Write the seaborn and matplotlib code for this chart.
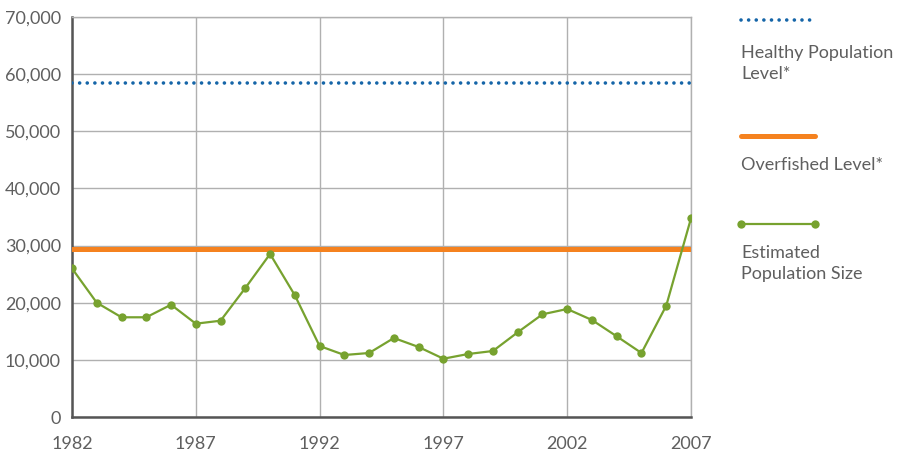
import matplotlib
matplotlib.use("Agg")
import matplotlib.pyplot as plt
import seaborn as sns
import pandas as pd
from matplotlib.lines import Line2D
from matplotlib.ticker import FuncFormatter, MultipleLocator

years = list(range(1982, 2008))
population = [26000, 20000, 17450, 17450, 19650, 16330, 16850, 22575, 28530, 21300,
              12425, 10850, 11200, 13825, 12250, 10200, 11025, 11550, 14820, 17970,
              18900, 16975, 14120, 11200, 19480, 34770]
healthy_level = 58500
overfished_level = 29400

year_ticks = [1982, 1987, 1992, 1997, 2002, 2007]
legend_labels = ["Healthy Population\nLevel*", "Overfished Level*", "Estimated\nPopulation Size"]

blue = "#1565a8"
orange = "#f5821f"
green = "#77a22f"
text_grey = "#5f5f5f"

sns.set_style("white")
plt.rcParams['font.family'] = ['Lato', 'DejaVu Sans']

df = pd.DataFrame({"year": years, "population": population})

fig = plt.figure(figsize=(9.05, 4.53), dpi=100)
ax = fig.add_axes([72 / 905, 1 - 417 / 453, (691 - 72) / 905, 400 / 453])

ax.axhline(healthy_level, color=blue, lw=2.6, linestyle=(0, (0.01, 2.1)),
           dash_capstyle="round", zorder=3)
ax.axhline(overfished_level, color=orange, lw=3.6, zorder=3)
sns.lineplot(data=df, x="year", y="population", ax=ax, color=green, lw=1.6,
             marker="o", markersize=6, markeredgewidth=0, zorder=4)

ax.set_xlim(1982, 2007)
ax.set_ylim(0, 70000)
ax.set_xlabel("")
ax.set_ylabel("")

ax.set_xticks(year_ticks)
ax.set_xticks(years, minor=True)
ax.yaxis.set_major_locator(MultipleLocator(10000))
ax.yaxis.set_major_formatter(FuncFormatter(lambda v, p: f"{int(v):,}"))

ax.grid(True, axis="both", which="major", color="#b0b0b0", lw=1)
ax.set_axisbelow(True)

for side in ["left", "bottom"]:
    ax.spines[side].set_color("#555555")
    ax.spines[side].set_linewidth(1.8)
ax.spines["right"].set_color("#b0b0b0")
ax.spines["right"].set_linewidth(1)
ax.spines["top"].set_color("#b0b0b0")
ax.spines["top"].set_linewidth(1)

ax.tick_params(axis="x", which="both", direction="out", length=8, width=1.1,
               color="#555555", labelsize=13, labelcolor=text_grey, pad=6)
ax.tick_params(axis="x", which="major", width=1.8)
ax.tick_params(axis="y", length=0, labelsize=13, labelcolor=text_grey, pad=8)

# legend drawn at the right side
lx0, lx1 = 741 / 905, 815 / 905
def fy(py):
    return 1 - py / 453

fig.add_artist(Line2D([lx0, lx1], [fy(20), fy(20)], color=blue, lw=2.6,
                      linestyle=(0, (0.01, 2.1)), dash_capstyle="round"))
fig.add_artist(Line2D([lx0, lx1], [fy(136), fy(136)], color=orange, lw=3.6))
fig.add_artist(Line2D([lx0, lx1], [fy(224), fy(224)], color=green, lw=1.6,
                      marker="o", markersize=6, markeredgewidth=0))

for py, label in zip([45, 157, 245], legend_labels):
    fig.text(lx0, fy(py), label, color=text_grey, fontsize=13,
             va="top", ha="left", linespacing=1.4)

fig.savefig("out.png", dpi=100)
